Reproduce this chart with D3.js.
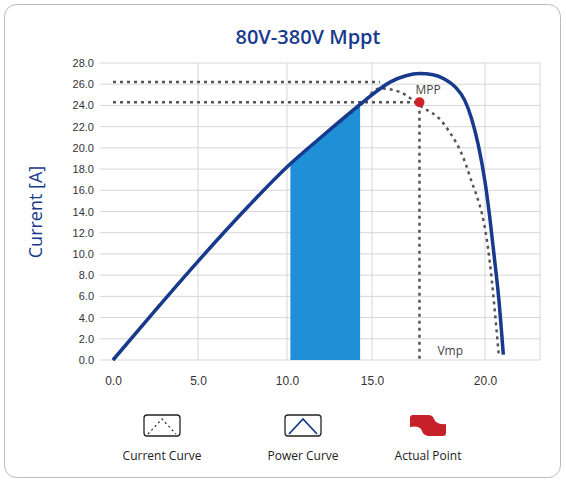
<!DOCTYPE html>
<html><head><meta charset="utf-8">
<script src="https://cdn.jsdelivr.net/npm/d3@7"></script>
<style>body{margin:0;background:#fff;font-family:"Open Sans",sans-serif}</style>
</head><body><svg id="c" width="566" height="483"></svg>
<script>
const xTicks = [0, 5, 10, 15, 20];
const yTicks = d3.range(0, 28.01, 2);
const powerX = [0, 2.5, 5, 7.5, 10, 12, 14.3, 15, 15.8, 16.5, 17.1, 17.7, 18.2, 18.7, 19.1, 19.4, 19.7, 20.0, 20.2, 20.4, 20.6, 20.8];
const powerY = [0, 4.7, 9.3, 13.9, 18.2, 21.0, 24.1, 25.0, 26.2, 26.8, 27.0, 26.9, 26.5, 25.7, 24.5, 22.8, 20.3, 16.8, 13.6, 9.8, 5.8, 0.5];
const currentX = [0, 5, 10, 14.3, 15.35, 16.2, 17.1, 18.2, 19.3, 20.2, 20.6];
const currentY = [0, 9.3, 18.2, 24.0, 25.6, 25.3, 24.0, 22.2, 17.5, 9.4, 0.5];
const mpp = {x: 17.1, y: 24.3};
const currentMax = 26.2;
const shade = [10.2, 14.3];
const legend = ["Current  Curve", "Power Curve", "Actual Point"];

const svg = d3.select("#c");
const x = d3.scaleLinear().domain([0, 5, 10, 15, 20, 22.4]).range([113, 198, 287, 372, 485, 540]);
const y = d3.scaleLinear().domain([0, 28]).range([360, 63]);
const blue = "#173a8c";

svg.append("rect").attr("x", 4.5).attr("y", 4.5).attr("width", 556).attr("height", 473)
  .attr("rx", 12).attr("fill", "#fff").attr("stroke", "#bbb");

// grid
svg.append("g").selectAll("line").data(yTicks).join("line")
  .attr("x1", 100).attr("x2", 540).attr("y1", d => y(d)).attr("y2", d => y(d))
  .attr("stroke", "#d6d6d6");
svg.append("g").selectAll("line").data(xTicks.slice(1)).join("line")
  .attr("x1", d => x(d)).attr("x2", d => x(d)).attr("y1", 63).attr("y2", 360)
  .attr("stroke", "#d6d6d6");
svg.append("line").attr("x1", 540).attr("x2", 540).attr("y1", 63).attr("y2", 360).attr("stroke", "#d6d6d6");

const ya = svg.append("g").attr("transform", "translate(100,0)")
  .call(d3.axisLeft(y).tickValues(yTicks).tickFormat(d3.format(".1f")).tickSize(0).tickPadding(6));
ya.select(".domain").remove();
ya.selectAll("text").attr("fill", "#333").attr("font-size", 11);
const xa = svg.append("g").attr("transform", "translate(0,372)")
  .call(d3.axisBottom(x).tickValues(xTicks).tickFormat(d3.format(".1f")).tickSize(0).tickPadding(4));
xa.select(".domain").remove();
xa.selectAll("text").attr("fill", "#333").attr("font-size", 12);

const pts = powerX.map((v, i) => [v, powerY[i]]);
const cpts = currentX.map((v, i) => [v, currentY[i]]);
const curve = d3.line().x(d => x(d[0])).y(d => y(d[1])).curve(d3.curveMonotoneX);

// shaded area under power curve
const shadePts = d3.range(shade[0], shade[1] + 0.001, 0.1).map(v => [v, d3.scaleLinear().domain(powerX).range(powerY)(v)]);
svg.append("path").datum(shadePts)
  .attr("d", d3.area().x(d => x(d[0])).y0(y(0)).y1(d => y(d[1])))
  .attr("fill", "#1f8fd8");

const dots = {fill: "none", stroke: "#555", "stroke-width": 2.5, "stroke-dasharray": "3,4"};
function dotted(sel) { Object.entries(dots).forEach(([k, v]) => sel.attr(k, v)); return sel; }
dotted(svg.append("path").attr("d", `M${x(0)},${y(currentMax)}H${x(15.35)}`));
dotted(svg.append("path").attr("d", `M${x(0)},${y(mpp.y)}H${x(mpp.x)}V${y(0)}`));
dotted(svg.append("path").datum(cpts).attr("d", curve));

svg.append("path").datum(pts).attr("d", curve).attr("fill", "none").attr("stroke", blue).attr("stroke-width", 3.5);

svg.append("circle").attr("cx", x(mpp.x)).attr("cy", y(mpp.y)).attr("r", 5).attr("fill", "#d0202a");
svg.append("text").attr("x", x(mpp.x) - 4).attr("y", y(mpp.y) - 8).text("MPP").attr("font-size", 12).attr("fill", "#444");
svg.append("text").attr("x", x(mpp.x) + 18).attr("y", 355).text("Vmp").attr("font-size", 12).attr("fill", "#444");

svg.append("text").attr("x", 308).attr("y", 44).attr("text-anchor", "middle")
  .attr("font-size", 20).attr("font-weight", 600).attr("fill", blue).text("80V-380V  Mppt");
svg.append("text").attr("transform", "translate(42,212) rotate(-90)").attr("text-anchor", "middle")
  .attr("font-size", 18).attr("fill", blue).text("Current [A]");

// legend
const lx = [162, 303, 428];
const lg = svg.append("g").selectAll("g").data(legend).join("g").attr("transform", (d, i) => `translate(${lx[i]},0)`);
lg.append("text").attr("y", 460).attr("text-anchor", "middle").attr("font-size", 12).attr("fill", "#222").text(d => d);
lg.each(function (d, i) {
  const g = d3.select(this);
  if (i < 2) {
    g.append("rect").attr("x", -18).attr("y", 415).attr("width", 36).attr("height", 21).attr("rx", 3)
      .attr("fill", "#fff").attr("stroke", "#222").attr("stroke-width", 1.3);
    g.append("path").attr("d", "M-14,434L0,419L14,434").attr("fill", "none")
      .attr("stroke", i ? blue : "#333").attr("stroke-width", i ? 1.8 : 1.3)
      .attr("stroke-dasharray", i ? null : "2,3");
  } else {
    g.append("rect").attr("x", -18).attr("y", 415).attr("width", 36).attr("height", 21).attr("rx", 3).attr("fill", "#c8202a");
    g.append("path").attr("d", "M-18,427Q-8,425 -6,431Q-5,435 0,436L-18,436Z").attr("fill", "#fff");
    g.append("path").attr("d", "M18,424Q8,425 6,419Q5,415 0,415L18,415Z").attr("fill", "#fff");
  }
});
</script></body></html>
